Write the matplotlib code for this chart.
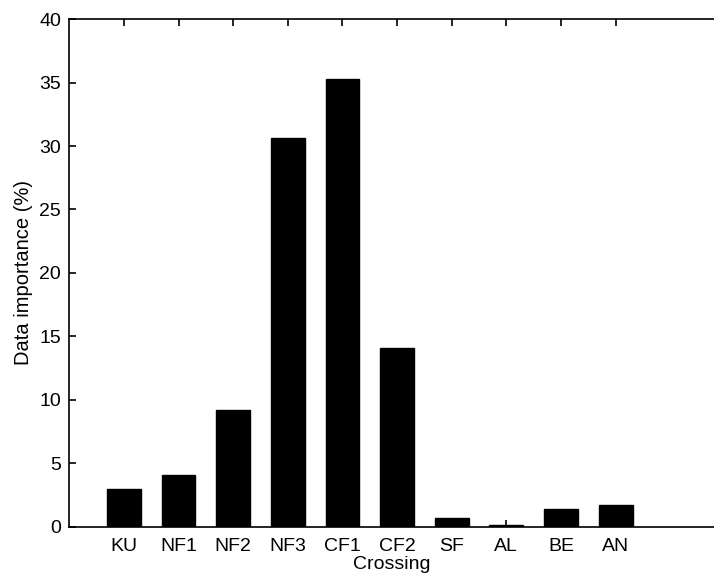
#!/usr/bin/env python

import matplotlib
matplotlib.use('Agg')
import matplotlib.pyplot as plt
import numpy as np


# Data
crossings = ['KU', 'NF1', 'NF2', 'NF3', 'CF1', 'CF2', 'SF', 'AL', 'BE', 'AN']
importance = [3.0, 4.1, 9.2, 30.6, 35.3, 14.1, 0.7, 0.1, 1.4, 1.7]
y_ticks = [0, 5, 10, 15, 20, 25, 30, 35, 40]

plt.rcParams['font.family'] = ['Liberation Sans', 'DejaVu Sans']

fig = plt.figure(figsize=(7.14, 5.8), dpi=100)
ax = fig.add_axes([0.097, 0.092, 0.903, 0.875])

positions = np.arange(1, len(crossings) + 1)
ax.bar(positions, importance, width=0.62, color='black', edgecolor='black')

ax.set_xlim(0, 11.8)
ax.set_ylim(0, 40)
ax.set_xticks(positions)
ax.set_xticklabels(crossings)
ax.set_yticks(y_ticks)

ax.spines['right'].set_visible(False)
for side in ['left', 'top', 'bottom']:
    ax.spines[side].set_linewidth(1.2)

ax.tick_params(direction='in', top=True, length=5, width=1.2, labelsize=14)
ax.tick_params(axis='x', pad=8)
ax.tick_params(axis='y', pad=6)

ax.set_xlabel('Crossing', fontsize=14, labelpad=1)
ax.set_ylabel('Data importance (%)', fontsize=14.5, labelpad=4)

plt.savefig('out.png', dpi=100)
